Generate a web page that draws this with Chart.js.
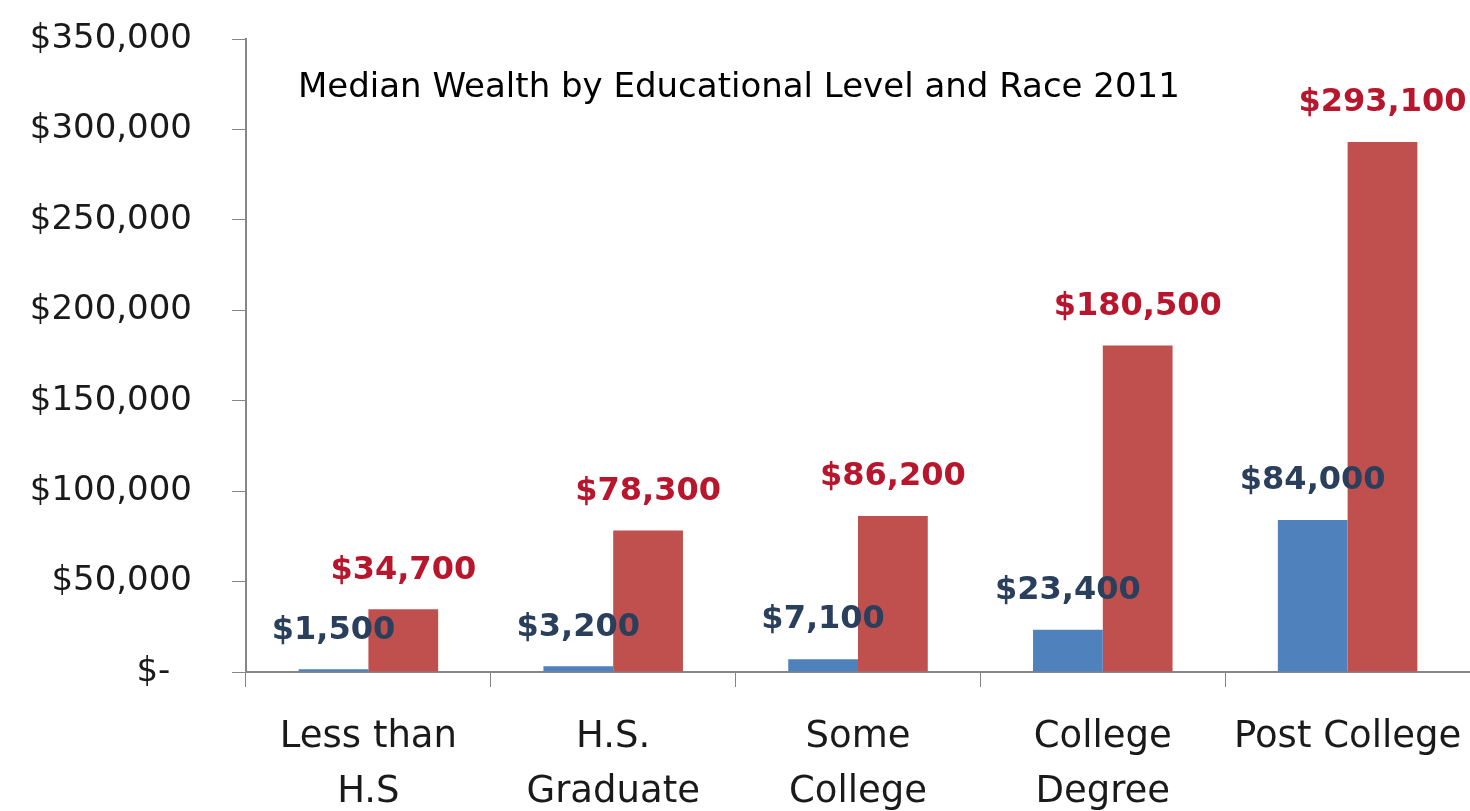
<!DOCTYPE html>
<html>
<head>
<meta charset="utf-8">
<script src="https://cdn.jsdelivr.net/npm/chart.js@4/dist/chart.umd.min.js"></script>
<style>
  html, body { margin: 0; padding: 0; background: #fff; }
  #wrap { width: 1470px; height: 811px; position: relative; }
</style>
</head>
<body>
<div id="wrap"><canvas id="chart"></canvas></div>
<script>
const categories = [["Less than", "H.S"], ["H.S.", "Graduate"], ["Some", "College"], ["College", "Degree"], ["Post College"]];
const blackWealth = [1500, 3200, 7100, 23400, 84000];
const whiteWealth = [34700, 78300, 86200, 180500, 293100];
const yTicks = [0, 50000, 100000, 150000, 200000, 250000, 300000, 350000];
const chartTitle = "Median Wealth by Educational Level and Race 2011";

const fmt = (v) => (v === 0 ? "$-  " : "$" + v.toLocaleString("en-US"));

const labelColors = ["#2a3f5c", "#b8162c"];
const fontFamily = "'DejaVu Sans'";

// value labels above each bar
const barLabels = {
  id: "barLabels",
  afterDatasetsDraw(chart) {
    const ctx = chart.ctx;
    ctx.save();
    ctx.font = "bold 32px " + fontFamily;
    ctx.textAlign = "center";
    ctx.textBaseline = "middle";
    chart.data.datasets.forEach((ds, i) => {
      ctx.fillStyle = labelColors[i];
      chart.getDatasetMeta(i).data.forEach((bar, j) => {
        ctx.fillText(fmt(ds.data[j]), bar.x, bar.y - 39);
      });
    });
    ctx.restore();
  },
};

// title sits inside the plot area
const innerTitle = {
  id: "innerTitle",
  afterDraw(chart) {
    const ctx = chart.ctx;
    ctx.save();
    ctx.font = "34px " + fontFamily;
    ctx.fillStyle = "#000";
    ctx.textAlign = "left";
    ctx.textBaseline = "middle";
    ctx.fillText(chartTitle, 298, 88);
    ctx.restore();
  },
};

new Chart(document.getElementById("chart"), {
  type: "bar",
  data: {
    labels: categories,
    datasets: [
      { label: "Black", data: blackWealth, backgroundColor: "#4f81bd" },
      { label: "White", data: whiteWealth, backgroundColor: "#c0504d" },
    ],
  },
  options: {
    responsive: true,
    maintainAspectRatio: false,
    animation: false,
    layout: { padding: { top: 39, right: 0, left: 0, bottom: 0 } },
    categoryPercentage: 0.57,
    barPercentage: 1,
    plugins: {
      legend: { display: false },
      tooltip: { enabled: false },
    },
    scales: {
      x: {
        grid: { drawOnChartArea: false, drawTicks: true, tickLength: 15, color: "#868686", offset: true },
        border: { color: "#868686", width: 2 },
        ticks: {
          color: "#1a1a1a",
          font: { family: "DejaVu Sans", size: 37, lineHeight: 1.48 },
          padding: 23,
          maxRotation: 0,
          autoSkip: false,
        },
        afterFit: (scale) => {
          scale.height = 139;
          scale.paddingLeft = 0;
          scale.paddingRight = 0;
        },
      },
      y: {
        min: 0,
        max: 350000,
        afterBuildTicks: (scale) => { scale.ticks = yTicks.map((v) => ({ value: v })); },
        grid: { drawOnChartArea: false, drawTicks: true, tickLength: 14, color: "#868686" },
        border: { color: "#868686", width: 2 },
        ticks: {
          color: "#1a1a1a",
          font: { family: "DejaVu Sans", size: 34 },
          padding: 40,
          callback: (v) => fmt(v),
        },
        afterFit: (scale) => {
          scale.width = 246;
          scale.paddingTop = 0;
          scale.paddingBottom = 0;
        },
      },
    },
  },
  plugins: [barLabels, innerTitle],
});
</script>
</body>
</html>
